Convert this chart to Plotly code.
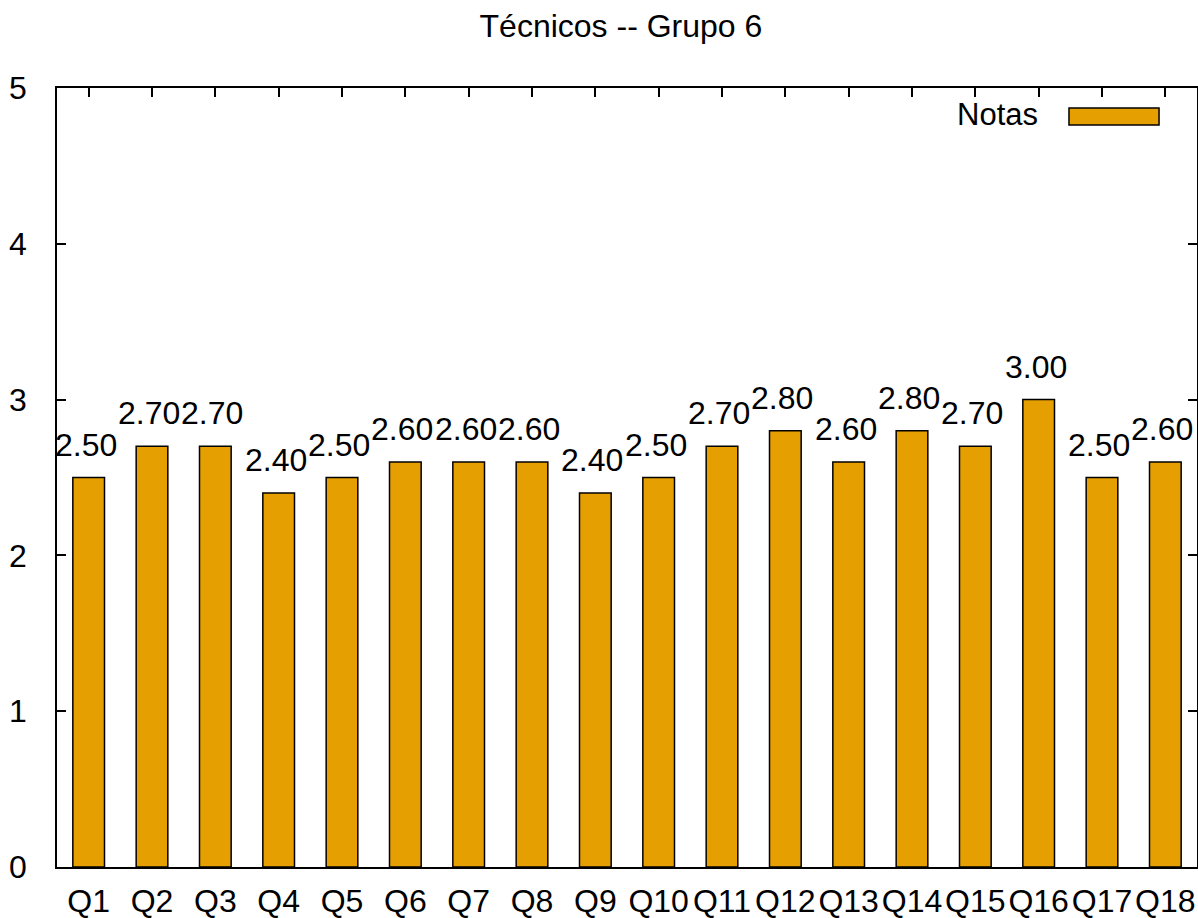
import plotly.graph_objects as go

categories = ["Q1", "Q2", "Q3", "Q4", "Q5", "Q6", "Q7", "Q8", "Q9", "Q10",
              "Q11", "Q12", "Q13", "Q14", "Q15", "Q16", "Q17", "Q18"]
notas = [2.5, 2.7, 2.7, 2.4, 2.5, 2.6, 2.6, 2.6, 2.4, 2.5,
         2.7, 2.8, 2.6, 2.8, 2.7, 3.0, 2.5, 2.6]
series_name = "Notas"
title_text = "Técnicos -- Grupo 6"
y_ticks = [0, 1, 2, 3, 4, 5]

BAR_COLOR = "#E69F00"
FONT = "Liberation Sans, Arial, sans-serif"

fig = go.Figure()
fig.add_trace(go.Bar(
    x=categories, y=notas, name=series_name, width=0.5,
    marker=dict(color=BAR_COLOR, line=dict(color="black", width=1.5)),
    showlegend=False,
))

annotations = []
for c, v in zip(categories, notas):
    annotations.append(dict(
        x=c, y=v, xref="x", yref="y", text=f"{v:.2f}", showarrow=False,
        yanchor="middle", xanchor="center", yshift=33, xshift=-3,
        font=dict(family=FONT, size=32, color="black"),
    ))
# legend entry (gnuplot style: text left of sample)
annotations.append(dict(
    x=0.862, y=0.9666, xref="paper", yref="paper", text=series_name,
    showarrow=False, xanchor="right", yanchor="middle",
    font=dict(family=FONT, size=31, color="black"),
))

fig.update_layout(
    width=1198, height=918,
    margin=dict(l=57, r=1, t=88, b=51, autoexpand=False),
    paper_bgcolor="white", plot_bgcolor="white",
    title=dict(text=title_text, x=0.4947, xref="paper", xanchor="center",
               y=0.9717, yref="container", yanchor="middle",
               font=dict(family=FONT, size=32, color="black")),
    font=dict(family=FONT, size=32, color="black"),
    bargap=0.5,
    annotations=annotations,
    shapes=[dict(type="rect", xref="paper", yref="paper",
                 x0=0.8877, x1=0.9667, y0=0.9525, y1=0.9743,
                 fillcolor=BAR_COLOR, line=dict(color="black", width=1.5))],
    xaxis=dict(
        type="category", range=[-0.5, 17.5], automargin=False,
        showline=True, linecolor="black", linewidth=1.5, mirror="ticks",
        ticks="inside", ticklen=9, tickcolor="black", tickwidth=1.5,
        showgrid=False, zeroline=False, layer="below traces",
        ticklabelstandoff=5,
        tickfont=dict(family=FONT, size=32, color="black"),
    ),
    yaxis=dict(
        range=[0, 5], tickvals=y_ticks, automargin=False,
        showline=True, linecolor="black", linewidth=1.5, mirror="ticks",
        ticks="inside", ticklen=9, tickcolor="black", tickwidth=1.5,
        showgrid=False, zeroline=False, layer="below traces",
        ticklabelstandoff=22,
        tickfont=dict(family=FONT, size=32, color="black"),
    ),
)

fig.write_html(
    "out.html",
    config={"displayModeBar": False},
    post_script="document.body.style.margin='0';document.body.style.overflow='hidden';",
)
